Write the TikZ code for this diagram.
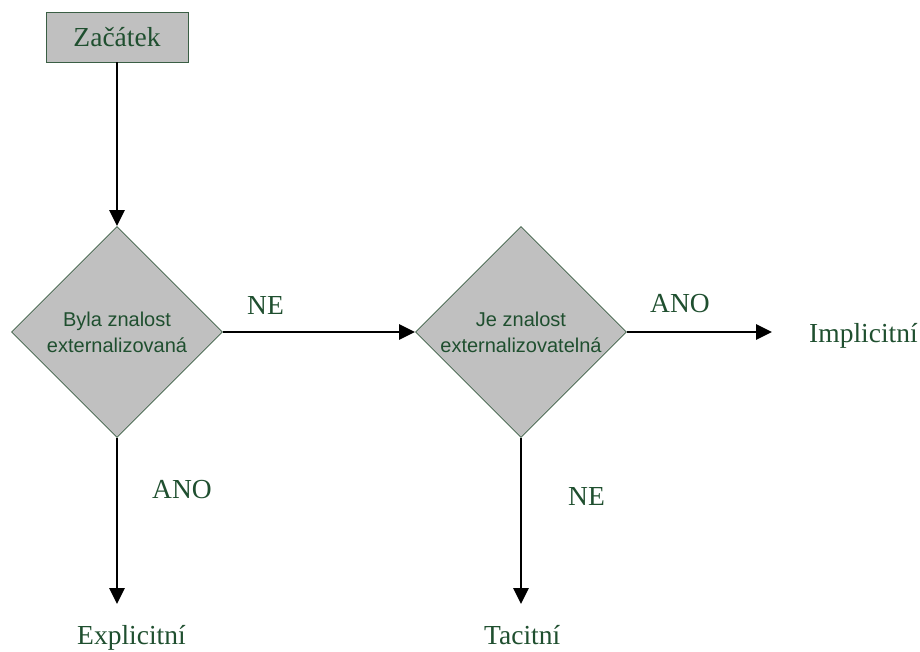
\documentclass[tikz,border=0pt]{standalone}
\usepackage{fontspec}
\setmainfont{Liberation Serif}
\newfontfamily\arialf{Liberation Sans}
\usetikzlibrary{shapes.geometric,arrows.meta}
\definecolor{txtgreen}{HTML}{1F4F2F}
\definecolor{boxgray}{HTML}{C0C0C0}
\definecolor{edgegreen}{HTML}{3A5E44}
\begin{document}
\begin{tikzpicture}[x=1pt,y=-1pt,
  startbox/.style={draw=edgegreen,fill=boxgray,line width=0.8pt,minimum width=142pt,minimum height=50pt,inner sep=0pt,text=txtgreen,font=\fontsize{27.5}{30}\selectfont},
  decision/.style={diamond,draw=edgegreen,fill=boxgray,line width=0.8pt,minimum width=211pt,minimum height=211pt,inner sep=0pt,text=txtgreen,align=center,font=\arialf\fontsize{20}{26}\selectfont},
  outtext/.style={text=txtgreen,inner sep=0pt,anchor=base west,font=\fontsize{27.5}{30}\selectfont},
  lbl/.style={text=txtgreen,inner sep=0pt,anchor=base west,font=\fontsize{27.5}{30}\selectfont},
  flow/.style={line width=2.8pt,-{Triangle[length=16pt,width=15pt]}}]
\useasboundingbox (0,0) rectangle (920,652);
\node[startbox] (start) at (117,37) {Začátek};
\node[decision] (d1) at (117,332) {Byla znalost\\externalizovaná};
\node[decision] (d2) at (521,332) {Je znalost\\externalizovatelná};
\node[outtext] (impl) at (809,342) {Implicitní};
\node[outtext] (expl) at (77,644) {Explicitní};
\node[outtext] (tac) at (484,644) {Tacitní};
\coordinate (i0) at (772,332);
\coordinate (e0) at (117,604);
\coordinate (t0) at (521,604);
\draw[flow] (start.south) -- (d1.north);
\draw[flow] (d1.east) -- (d2.west);
\draw[flow] (d2.east) -- (i0);
\draw[flow] (d1.south) -- (e0);
\draw[flow] (d2.south) -- (t0);
\node[lbl] (ne1) at (247,314) {NE};
\node[lbl] (ano1) at (650,312) {ANO};
\node[lbl] (ano2) at (152,498) {ANO};
\node[lbl] (ne2) at (568,505) {NE};
\end{tikzpicture}
\end{document}
